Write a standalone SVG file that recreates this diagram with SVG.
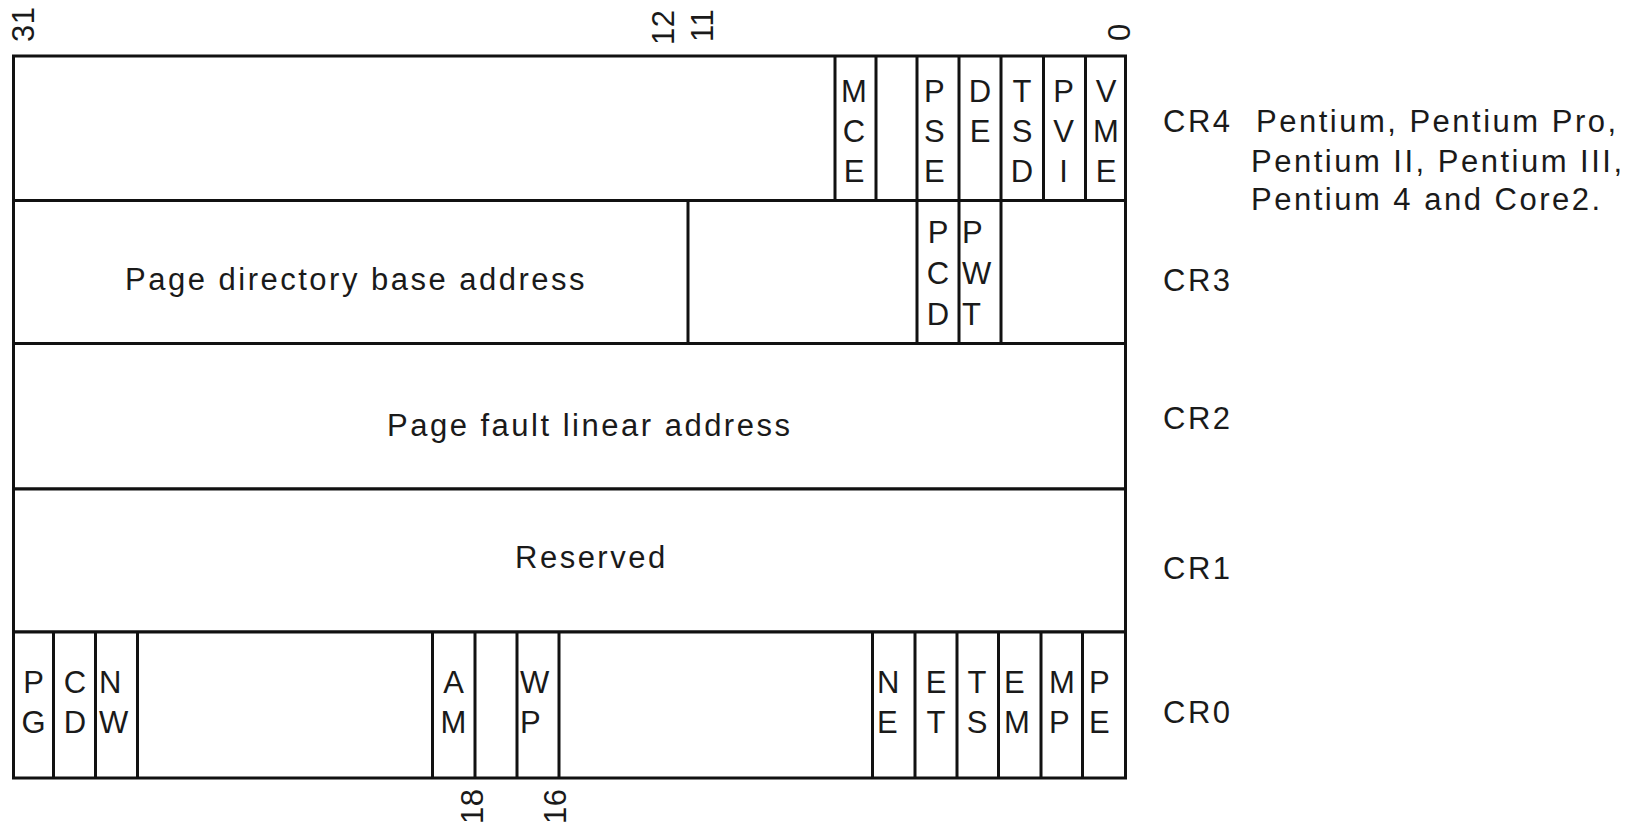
<svg xmlns="http://www.w3.org/2000/svg" width="1642" height="822" viewBox="0 0 1642 822">
<style>
.box{fill:#fff;stroke:#111;stroke-width:3}
.ln{stroke:#111;stroke-width:3;fill:none}
text{font-family:"Liberation Sans",Arial,sans-serif;font-size:31px;fill:#1a1a1a}
.w{letter-spacing:2.5px}
.n{letter-spacing:0.5px}
.c{text-anchor:middle}
</style>
<rect x="0" y="0" width="1642" height="822" fill="#fff"/>
<g id="bit-numbers">
<text class="n" transform="translate(34,42) rotate(-90)">31</text>
<text class="n" transform="translate(674,45) rotate(-90)">12</text>
<text class="n" transform="translate(713,42) rotate(-90)">11</text>
<text class="n" transform="translate(1130,41) rotate(-90)">0</text>
<text class="n" transform="translate(483,824) rotate(-90)">18</text>
<text class="n" transform="translate(566,824) rotate(-90)">16</text>
</g>
<g id="cr4">
<rect class="box" x="13.5" y="56" width="1112" height="144.5"/>
<path class="ln" d="M835 56V200.5M876 56V200.5M917 56V200.5M959 56V200.5M1001 56V200.5M1043.5 56V200.5M1085.5 56V200.5"/>
<text class="c" x="854" y="102">M</text><text class="c" x="854" y="142">C</text><text class="c" x="854" y="182">E</text>
<text x="924" y="102">P</text><text x="924" y="142">S</text><text x="924" y="182">E</text>
<text class="c" x="980" y="102">D</text><text class="c" x="980" y="142">E</text>
<text class="c" x="1022" y="102">T</text><text class="c" x="1022" y="142">S</text><text class="c" x="1022" y="182">D</text>
<text class="c" x="1063.5" y="102">P</text><text class="c" x="1063.5" y="142">V</text><text class="c" x="1063.5" y="182">I</text>
<text class="c" x="1106" y="102">V</text><text class="c" x="1106" y="142">M</text><text class="c" x="1106" y="182">E</text>
<text class="w" x="1163" y="132">CR4</text>
<text class="w" x="1256" y="132">Pentium, Pentium Pro,</text>
<text class="w" x="1251" y="172">Pentium II, Pentium III,</text>
<text class="w" x="1251" y="210">Pentium 4 and Core2.</text>
</g>
<g id="cr3">
<rect class="box" x="13.5" y="200.5" width="1112" height="143"/>
<path class="ln" d="M688 200.5V343.5M917 200.5V343.5M959 200.5V343.5M1001 200.5V343.5"/>
<text class="w" x="125" y="290">Page directory base address</text>
<text class="c" x="938" y="243">P</text><text class="c" x="938" y="284">C</text><text class="c" x="938" y="325">D</text>
<text x="962" y="243">P</text><text x="962" y="284">W</text><text x="962" y="325">T</text>
<text class="w" x="1163" y="291">CR3</text>
</g>
<g id="cr2">
<rect class="box" x="13.5" y="343.5" width="1112" height="145.5"/>
<text class="w" x="387" y="436">Page fault linear address</text>
<text class="w" x="1163" y="429">CR2</text>
</g>
<g id="cr1">
<rect class="box" x="13.5" y="489" width="1112" height="143"/>
<text class="w" x="515" y="568">Reserved</text>
<text class="w" x="1163" y="579">CR1</text>
</g>
<g id="cr0">
<rect class="box" x="13.5" y="632" width="1112" height="146"/>
<path class="ln" d="M53.5 632V778M95.5 632V778M137.5 632V778M432.5 632V778M475 632V778M517 632V778M559 632V778M872.5 632V778M915 632V778M957 632V778M998.5 632V778M1041 632V778M1082.5 632V778"/>
<text class="c" x="33.5" y="693">P</text><text class="c" x="33.5" y="733">G</text>
<text class="c" x="75" y="693">C</text><text class="c" x="75" y="733">D</text>
<text x="99" y="693">N</text><text x="99" y="733">W</text>
<text class="c" x="453.5" y="693">A</text><text class="c" x="453.5" y="733">M</text>
<text x="520" y="693">W</text><text x="520" y="733">P</text>
<text x="877" y="693">N</text><text x="877" y="733">E</text>
<text class="c" x="936" y="693">E</text><text class="c" x="936" y="733">T</text>
<text class="c" x="977" y="693">T</text><text class="c" x="977" y="733">S</text>
<text x="1004" y="693">E</text><text x="1004" y="733">M</text>
<text x="1049" y="693">M</text><text x="1049" y="733">P</text>
<text x="1089" y="693">P</text><text x="1089" y="733">E</text>
<text class="w" x="1163" y="723">CR0</text>
</g>
</svg>
